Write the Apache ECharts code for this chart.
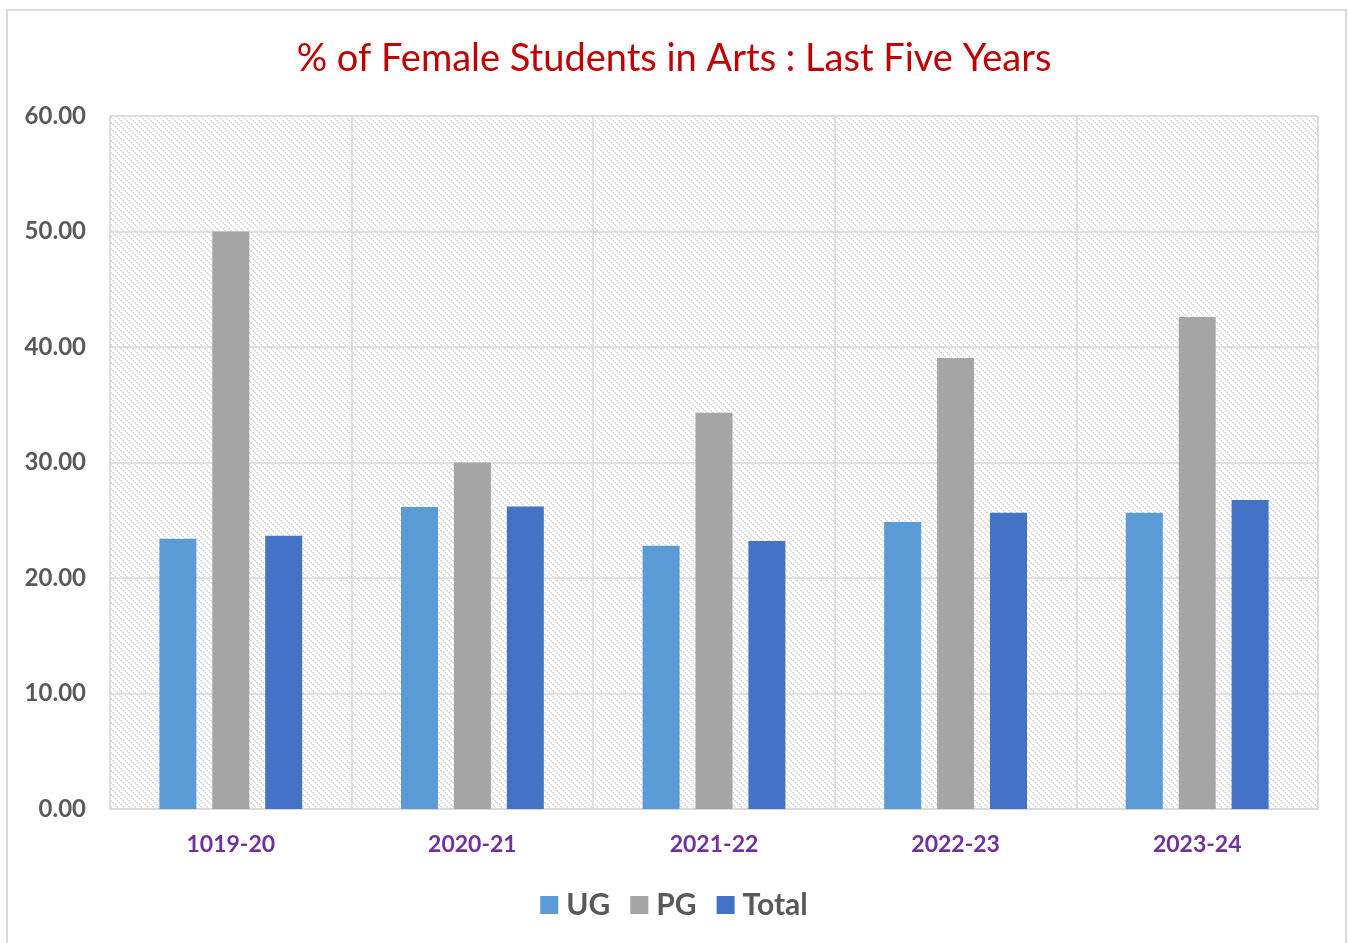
<!DOCTYPE html>
<html><head><meta charset="utf-8">
<script src="https://cdn.jsdelivr.net/npm/echarts@6/dist/echarts.min.js"></script>
<style>html,body{margin:0;padding:0;background:#fff}#c{width:1348px;height:943px}</style>
</head><body><div id="c"></div>
<script>
const categories = ['1019-20','2020-21','2021-22','2022-23','2023-24'];
const ugValues = [23.4, 26.15, 22.8, 24.85, 25.65];
const pgValues = [50.0, 30.0, 34.3, 39.05, 42.6];
const totalValues = [23.65, 26.2, 23.2, 25.65, 26.75];
const yTicks = { min: 0, max: 60, interval: 10 };

const pc = document.createElement('canvas');
pc.width = 6; pc.height = 6;
const ctx = pc.getContext('2d');
ctx.fillStyle = '#ffffff'; ctx.fillRect(0,0,6,6);
ctx.fillStyle = '#dcdcdc';
for (let i = 0; i < 6; i++) { ctx.fillRect(i, i, 1, 1); if (i % 2 === 0) ctx.fillRect((i+1)%6, i, 1, 1); }

const chart = echarts.init(document.getElementById('c'));
const font = 'Lato, "Open Sans", sans-serif';
chart.setOption({
  animation: false,
  textStyle: { fontFamily: font },
  title: { text: '% of Female Students in Arts : Last Five Years', left: 'center', top: 35,
    textStyle: { color: '#C00000', fontSize: 38, fontWeight: 'normal', fontFamily: font } },
  graphic: [{ type: 'rect', shape: { x: 7, y: 10, width: 1339, height: 945 },
    style: { fill: 'none', stroke: '#d9d9d9', lineWidth: 2 }, silent: true }],
  legend: { bottom: 18, left: 'center', itemWidth: 18, itemHeight: 18, itemGap: 20, icon: 'rect',
    textStyle: { color: '#595959', fontSize: 30, fontWeight: 'bold', fontFamily: font, padding: [0,0,0,3] },
    data: ['UG','PG','Total'] },
  grid: { left: 110, right: 30, top: 116, bottom: 134, show: true,
    backgroundColor: { image: pc, repeat: 'repeat' }, borderColor: '#d9d9d9', borderWidth: 1 },
  xAxis: { type: 'category', data: categories,
    axisLine: { lineStyle: { color: '#d9d9d9', width: 2 } }, axisTick: { show: false },
    splitLine: { show: true, lineStyle: { color: '#d9d9d9', width: 1.5 } },
    axisLabel: { color: '#7030A0', fontSize: 23, fontWeight: 'bold', margin: 24, fontFamily: font } },
  yAxis: { type: 'value', min: yTicks.min, max: yTicks.max, interval: yTicks.interval,
    axisLine: { show: false }, axisTick: { show: false },
    splitLine: { lineStyle: { color: '#d9d9d9', width: 1.5 } },
    axisLabel: { color: '#595959', fontSize: 24, fontWeight: 'bold', margin: 24, fontFamily: font,
      formatter: v => v.toFixed(2) } },
  series: [
    { name: 'UG', type: 'bar', data: ugValues, barWidth: 37, barGap: '43%', itemStyle: { color: '#5B9BD5' } },
    { name: 'PG', type: 'bar', data: pgValues, barWidth: 37, itemStyle: { color: '#A5A5A5' } },
    { name: 'Total', type: 'bar', data: totalValues, barWidth: 37, itemStyle: { color: '#4472C4' } }
  ]
});
</script></body></html>
